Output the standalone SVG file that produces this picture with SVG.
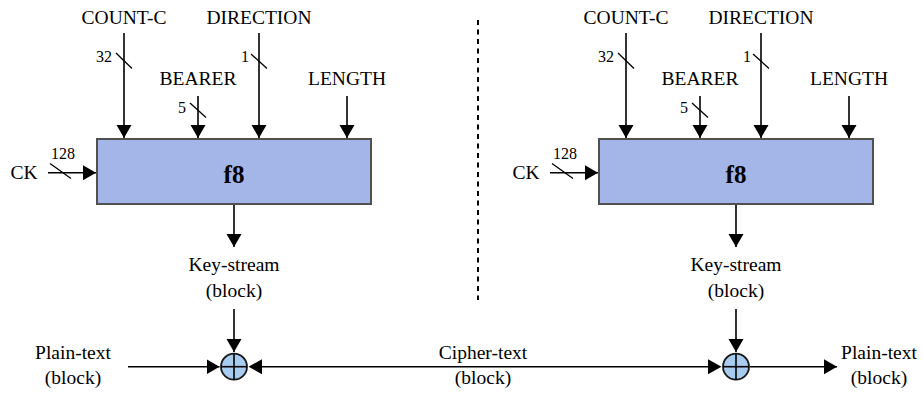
<svg xmlns="http://www.w3.org/2000/svg" width="922" height="393" viewBox="0 0 922 393" font-family="'Liberation Serif', 'DejaVu Serif', serif">
  <style>
    .lbl { font-family: 'Liberation Serif', 'DejaVu Serif', serif; font-size: 19.5px; text-anchor: middle; fill: #000; }
    .num { font-family: 'Liberation Serif', 'DejaVu Serif', serif; font-size: 16px; text-anchor: end; fill: #000; }
    .title { font-family: 'Liberation Serif', 'DejaVu Serif', serif; font-size: 25px; font-weight: bold; text-anchor: middle; fill: #000; }
    .box { fill: #A4B5E7; stroke: #505050; stroke-width: 2; }
    .xor { fill: #A8CCF0; stroke: #1a1a1a; stroke-width: 1.8; }
    .wire { stroke: #000; stroke-width: 1.6; fill: none; }
    .arrow { stroke: #000; stroke-width: 1.6; fill: none; marker-end: url(#head); }
    .bus { stroke: #000; stroke-width: 1.3; }
    .sep { stroke: #000; stroke-width: 2; stroke-dasharray: 5 4.5; }
  </style>
  <defs>
    <marker id="head" markerUnits="userSpaceOnUse" markerWidth="14" markerHeight="16" refX="13" refY="7.5" orient="auto">
      <path d="M0,0 L13,7.5 L0,15 z" fill="#000"/>
    </marker>
  </defs>

  <rect width="922" height="393" fill="#fff"/>

  <!-- separator between sender and receiver -->
  <line class="sep" x1="478" y1="20" x2="478" y2="300"/>

  <!-- sender side -->
  <g id="f8-left">
    <rect class="box" x="97" y="139" width="274" height="65"/>
    <text class="title" x="234" y="183">f8</text>
  </g>
  <g id="labels-left">
    <text class="lbl" x="124" y="24">COUNT-C</text>
    <text class="lbl" x="259" y="24">DIRECTION</text>
    <text class="lbl" x="198" y="85">BEARER</text>
    <text class="lbl" x="347" y="85">LENGTH</text>
    <text class="lbl" x="24" y="178.5">CK</text>
    <text class="num" x="112" y="62">32</text>
    <text class="num" x="249" y="62">1</text>
    <text class="num" x="186" y="113">5</text>
    <text class="num" x="75" y="159">128</text>
    <text class="lbl" x="234" y="271">Key-stream</text>
    <text class="lbl" x="234" y="297">(block)</text>
    <text class="lbl" x="73" y="359">Plain-text</text>
    <text class="lbl" x="73" y="383.5">(block)</text>
  </g>
  <g id="xor-left">
    <circle class="xor" cx="234" cy="366.7" r="13"/>
    <line class="wire" x1="221" y1="366.7" x2="247" y2="366.7"/>
    <line class="wire" x1="234" y1="353.7" x2="234" y2="379.7"/>
  </g>

  <!-- receiver side -->
  <g id="f8-right">
    <rect class="box" x="599" y="139" width="274" height="65"/>
    <text class="title" x="736" y="183">f8</text>
  </g>
  <g id="labels-right">
    <text class="lbl" x="626" y="24">COUNT-C</text>
    <text class="lbl" x="761" y="24">DIRECTION</text>
    <text class="lbl" x="700" y="85">BEARER</text>
    <text class="lbl" x="849" y="85">LENGTH</text>
    <text class="lbl" x="526" y="178.5">CK</text>
    <text class="num" x="614" y="62">32</text>
    <text class="num" x="751" y="62">1</text>
    <text class="num" x="688" y="113">5</text>
    <text class="num" x="577" y="159">128</text>
    <text class="lbl" x="736" y="271">Key-stream</text>
    <text class="lbl" x="736" y="297">(block)</text>
    <text class="lbl" x="879" y="359">Plain-text</text>
    <text class="lbl" x="879" y="383.5">(block)</text>
  </g>
  <g id="xor-right">
    <circle class="xor" cx="736" cy="366.7" r="13"/>
    <line class="wire" x1="723" y1="366.7" x2="749" y2="366.7"/>
    <line class="wire" x1="736" y1="353.7" x2="736" y2="379.7"/>
  </g>

  <g id="cipher-label">
    <text class="lbl" x="483" y="359">Cipher-text</text>
    <text class="lbl" x="483" y="383.5">(block)</text>
  </g>

  <!-- connectors -->
  <g id="connectors">
    <!-- sender inputs -->
    <line class="arrow" x1="124" y1="33" x2="124" y2="138"/>
    <line class="arrow" x1="198" y1="96" x2="198" y2="138"/>
    <line class="arrow" x1="259" y1="33" x2="259" y2="138"/>
    <line class="arrow" x1="347" y1="96" x2="347" y2="138"/>
    <line class="arrow" x1="48" y1="172.7" x2="96" y2="172.7"/>
    <line class="arrow" x1="234" y1="205" x2="234" y2="247"/>
    <line class="arrow" x1="234" y1="309" x2="234" y2="352"/>
    <line class="arrow" x1="128" y1="366.7" x2="219.5" y2="366.7"/>
    <!-- bus width slashes -->
    <line class="bus" x1="116" y1="53" x2="132" y2="68.5"/>
    <line class="bus" x1="251" y1="54" x2="267" y2="68.5"/>
    <line class="bus" x1="190" y1="103" x2="206" y2="117.5"/>
    <line class="bus" x1="50" y1="163.5" x2="71" y2="178.5"/>

    <!-- receiver inputs -->
    <line class="arrow" x1="626" y1="33" x2="626" y2="138"/>
    <line class="arrow" x1="700" y1="96" x2="700" y2="138"/>
    <line class="arrow" x1="761" y1="33" x2="761" y2="138"/>
    <line class="arrow" x1="849" y1="96" x2="849" y2="138"/>
    <line class="arrow" x1="550" y1="172.7" x2="598" y2="172.7"/>
    <line class="arrow" x1="736" y1="205" x2="736" y2="247"/>
    <line class="arrow" x1="736" y1="309" x2="736" y2="352"/>
    <line class="arrow" x1="750" y1="366.7" x2="837" y2="366.7"/>
    <line class="bus" x1="618" y1="53" x2="634" y2="68.5"/>
    <line class="bus" x1="753" y1="54" x2="769" y2="68.5"/>
    <line class="bus" x1="692" y1="103" x2="708" y2="117.5"/>
    <line class="bus" x1="552" y1="163.5" x2="573" y2="178.5"/>

    <!-- cipher-text link between the two XORs -->
    <line class="wire" x1="262" y1="366.7" x2="708" y2="366.7"/>
    <path d="M248.5,366.7 L262,359.2 L262,374.2 z" fill="#000"/>
    <path d="M721.5,366.7 L708,359.2 L708,374.2 z" fill="#000"/>
  </g>
</svg>
